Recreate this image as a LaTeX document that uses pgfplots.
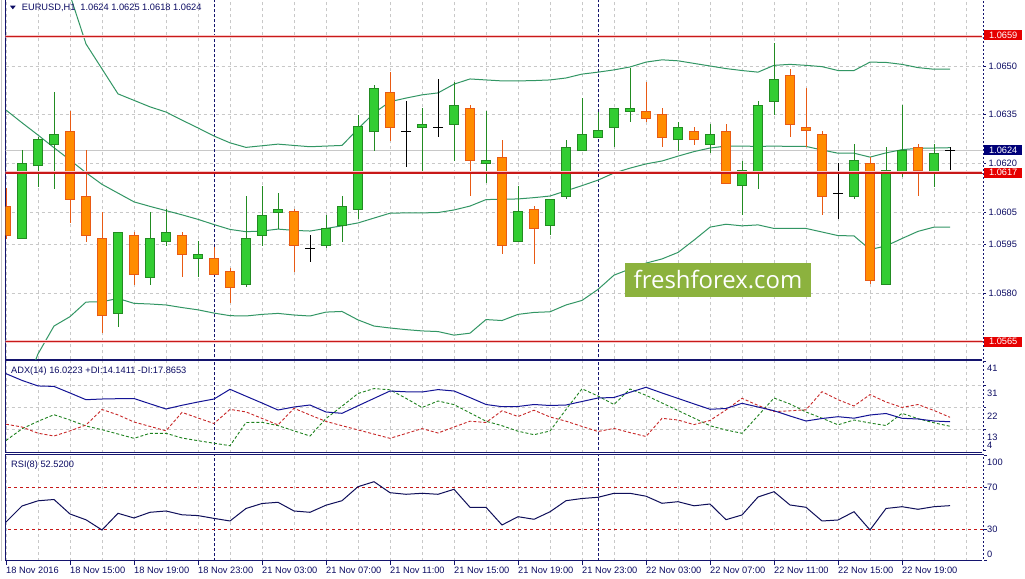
\documentclass[border=0pt]{standalone}
\usepackage{fontspec}
\setmainfont{Liberation Sans}
\newfontfamily\wmfont{Open Sans}
\usepackage{pgfplots}
\usepackage{pgfplotstable}
\pgfplotsset{compat=1.18}

\definecolor{txt}{RGB}{12,12,100}
\definecolor{frame}{RGB}{20,20,110}
\definecolor{gridc}{RGB}{200,200,200}
\definecolor{bullfill}{RGB}{50,205,50}
\definecolor{bullline}{RGB}{34,139,34}
\definecolor{bearfill}{RGB}{255,140,0}
\definecolor{bearline}{RGB}{232,90,20}
\definecolor{bbc}{RGB}{50,150,100}
\definecolor{lvlred}{RGB}{200,25,25}
\definecolor{halo}{RGB}{248,200,200}
\definecolor{adxc}{RGB}{20,20,150}
\definecolor{pdic}{RGB}{30,130,30}
\definecolor{mdic}{RGB}{200,40,40}
\definecolor{rsic}{RGB}{15,15,90}
\definecolor{wm}{RGB}{140,178,62}
\definecolor{boxred}{RGB}{230,0,0}
\definecolor{boxnavy}{RGB}{0,0,120}

\newcommand\sz{\fontsize{9.3}{11}\selectfont}

% EURUSD H1 candles: bar index k, open, high, low, close
\pgfplotstableread{
k O H L C
1 1.05968 1.06241 1.05968 1.06200
2 1.06192 1.06282 1.06128 1.06272
3 1.06259 1.06421 1.06120 1.06289
7 1.05737 1.05987 1.05696 1.05987
9 1.05848 1.06051 1.05825 1.05969
10 1.05959 1.06058 1.05945 1.05987
12 1.05907 1.05960 1.05848 1.05919
15 1.05827 1.06099 1.05818 1.05969
16 1.05978 1.06130 1.05945 1.06040
17 1.06048 1.06109 1.05996 1.06058
20 1.05947 1.06040 1.05938 1.05999
21 1.06009 1.06099 1.05958 1.06068
22 1.06058 1.06350 1.06027 1.06313
23 1.06297 1.06441 1.06239 1.06431
26 1.06311 1.06370 1.06170 1.06320
28 1.06320 1.06450 1.06208 1.06379
30 1.06200 1.06361 1.06138 1.06208
32 1.05959 1.06130 1.05959 1.06050
34 1.06009 1.06089 1.05978 1.06089
35 1.06099 1.06272 1.06089 1.06249
36 1.06239 1.06402 1.06239 1.06289
37 1.06280 1.06359 1.06280 1.06300
38 1.06311 1.06370 1.06249 1.06370
39 1.06361 1.06493 1.06328 1.06370
42 1.06272 1.06328 1.06239 1.06311
44 1.06259 1.06320 1.06231 1.06289
46 1.06130 1.06208 1.06040 1.06177
47 1.06169 1.06392 1.06120 1.06379
48 1.06392 1.06572 1.06349 1.06459
53 1.06099 1.06259 1.06089 1.06208
55 1.05827 1.06251 1.05827 1.06177
56 1.06169 1.06379 1.06159 1.06239
58 1.06169 1.06259 1.06128 1.06231
}\bull

\pgfplotstableread{
k O H L C
0 1.06068 1.06124 1.05965 1.05978
4 1.06297 1.06361 1.06017 1.06089
5 1.06099 1.06241 1.05958 1.05978
6 1.05969 1.06051 1.05677 1.05729
8 1.05978 1.05987 1.05825 1.05856
11 1.05978 1.05987 1.05848 1.05919
13 1.05907 1.05943 1.05858 1.05858
14 1.05867 1.05878 1.05768 1.05818
18 1.06050 1.06058 1.05866 1.05947
24 1.06419 1.06482 1.06270 1.06311
29 1.06370 1.06379 1.06099 1.06208
31 1.06218 1.06272 1.05919 1.05947
33 1.06058 1.06068 1.05888 1.05999
40 1.06361 1.06452 1.06328 1.06339
41 1.06351 1.06370 1.06249 1.06280
43 1.06297 1.06311 1.06256 1.06272
45 1.06297 1.06320 1.06138 1.06138
49 1.06471 1.06490 1.06280 1.06320
50 1.06311 1.06431 1.06249 1.06300
51 1.06289 1.06300 1.06040 1.06099
54 1.06200 1.06220 1.05827 1.05840
57 1.06249 1.06259 1.06099 1.06177
}\bear

\pgfplotstableread{
k O H L C
19 1.05938 1.05979 1.05896 1.05938
25 1.06297 1.06392 1.06189 1.06297
27 1.06311 1.06460 1.06280 1.06311
52 1.06107 1.06200 1.06027 1.06107
59 1.06240 1.06250 1.06180 1.06240
}\doji

% Bollinger bands
\pgfplotstableread{
k up mid lo
0 1.07259 1.06364 1.05347
1 1.07166 1.06325 1.05485
2 1.07043 1.06287 1.05612
3 1.06889 1.06248 1.05698
4 1.06719 1.06210 1.05727
5 1.06568 1.06171 1.05772
6 1.06491 1.06135 1.05773
7 1.06414 1.06108 1.05783
8 1.06394 1.06081 1.05768
9 1.06374 1.06067 1.05766
10 1.06358 1.06054 1.05763
11 1.06333 1.06041 1.05755
12 1.06309 1.06027 1.05748
13 1.06284 1.06011 1.05738
14 1.06263 1.05996 1.05730
15 1.06249 1.05989 1.05729
16 1.06254 1.05991 1.05734
17 1.06259 1.05997 1.05737
18 1.06255 1.05993 1.05732
19 1.06251 1.05991 1.05729
20 1.06253 1.05999 1.05741
21 1.06255 1.06007 1.05743
22 1.06306 1.06016 1.05717
23 1.06355 1.06031 1.05698
24 1.06390 1.06046 1.05692
25 1.06401 1.06047 1.05687
26 1.06411 1.06047 1.05683
27 1.06417 1.06048 1.05681
28 1.06444 1.06056 1.05670
29 1.06460 1.06068 1.05676
30 1.06457 1.06088 1.05718
31 1.06454 1.06089 1.05715
32 1.06454 1.06090 1.05734
33 1.06455 1.06094 1.05740
34 1.06457 1.06099 1.05742
35 1.06463 1.06115 1.05763
36 1.06475 1.06131 1.05777
37 1.06481 1.06148 1.05811
38 1.06488 1.06170 1.05855
39 1.06497 1.06185 1.05874
40 1.06512 1.06198 1.05892
41 1.06519 1.06207 1.05905
42 1.06516 1.06222 1.05925
43 1.06508 1.06236 1.05963
44 1.06500 1.06247 1.06003
45 1.06492 1.06253 1.06012
46 1.06486 1.06253 1.06007
47 1.06481 1.06252 1.06010
48 1.06502 1.06253 1.05999
49 1.06505 1.06252 1.05999
50 1.06502 1.06252 1.05999
51 1.06498 1.06241 1.05988
52 1.06486 1.06231 1.05977
53 1.06486 1.06231 1.05976
54 1.06512 1.06219 1.05934
55 1.06511 1.06232 1.05945
56 1.06505 1.06242 1.05968
57 1.06495 1.06246 1.05990
58 1.06490 1.06247 1.06003
59 1.06490 1.06248 1.06003
}\bb

% ADX(14)
\pgfplotstableread{
k adx pdi mdi
0 36.00 8.23 15.00
1 33.20 13.09 13.84
2 30.90 16.21 11.26
3 30.70 18.95 10.10
4 27.97 16.75 12.22
5 25.18 14.26 14.67
6 25.47 12.72 21.11
7 25.60 10.93 18.87
8 25.68 9.14 15.92
9 23.48 11.22 14.09
10 21.32 11.22 12.26
11 22.86 9.27 19.91
12 24.23 8.15 17.58
13 25.47 7.11 15.29
14 29.50 6.07 21.15
15 26.64 15.71 20.11
16 23.81 15.79 17.41
17 20.90 14.42 14.71
18 22.15 12.26 21.61
19 22.98 10.10 18.83
20 20.07 17.37 16.17
21 19.53 22.48 14.38
22 22.65 27.76 12.63
23 25.72 29.80 10.89
24 28.80 29.30 9.14
25 28.47 25.76 11.14
26 28.38 21.94 13.18
27 29.38 24.64 11.35
28 28.80 23.15 13.84
29 26.06 19.70 16.25
30 23.19 16.25 15.71
31 22.28 14.38 20.57
32 22.36 12.09 18.20
33 23.19 10.64 20.82
34 22.77 12.18 18.00
35 22.98 21.11 16.25
36 24.44 29.71 14.09
37 25.89 26.72 11.97
38 26.10 23.19 13.26
39 28.26 29.63 11.51
40 30.34 27.01 9.89
41 27.97 23.81 17.45
42 25.72 20.70 16.75
43 23.44 17.54 14.84
44 21.20 14.38 16.54
45 21.53 12.59 20.94
46 23.69 11.22 25.76
47 22.15 18.53 22.81
48 20.61 25.89 20.24
49 18.41 23.40 20.57
50 16.33 20.07 20.99
51 17.37 17.50 28.51
52 18.12 14.75 25.18
53 17.50 16.75 22.57
54 18.83 15.50 27.30
55 19.45 14.46 24.23
56 17.46 19.53 21.98
57 17.17 17.29 23.19
58 16.33 15.59 20.70
59 16.02 14.14 17.87
}\adxtab

% RSI(8)
\pgfplotstableread{
k rsi
0 36.97
1 52.20
2 57.15
3 58.39
4 44.58
5 39.06
6 29.35
7 45.25
8 40.77
9 46.20
10 47.44
11 43.82
12 43.06
13 40.39
14 37.92
15 49.82
16 54.58
17 55.72
18 47.44
19 46.20
20 52.96
21 57.24
22 70.57
23 75.33
24 64.86
25 63.34
26 64.29
27 63.34
28 68.10
29 50.96
30 50.96
31 34.11
32 42.01
33 39.54
34 46.68
35 57.24
36 59.34
37 60.48
38 64.29
39 64.29
40 61.53
41 54.77
42 56.29
43 52.39
44 54.10
45 39.16
46 43.63
47 60.77
48 65.81
49 53.15
50 50.96
51 37.92
52 38.87
53 46.77
54 29.35
55 49.82
56 51.53
57 49.06
58 51.53
59 52.52
}\rsitab

\pgfplotsset{
  panel/.style={
    scale only axis, width=977.5bp,
    xmin=-0.03125, xmax=61.0625,
    axis line style={draw=frame, line width=1bp},
    xtick={0,4,...,56}, minor xtick={2,6,...,58,60},
    xmajorgrids, xminorgrids,
    major grid style={draw=gridc, dash pattern=on 3bp off 3bp, line width=0.8bp},
    minor grid style={draw=gridc, dash pattern=on 3bp off 3bp, line width=0.8bp},
    tick align=outside, ytick pos=right, xtick pos=left,
    tick style={draw=frame, line width=0.8bp},
    major tick length=3bp, minor tick length=0bp,
    xtick style={draw=none},
    ticklabel style={font=\sz, text=txt, inner sep=0pt},
  },
  sep/.style={draw=frame, line width=0.9bp, dash pattern=on 3bp off 2bp, forget plot},
  wick/.style={draw=none, mark=none, forget plot,
    error bars/.cd, y dir=both, y explicit, error mark=none,
    error bar style={draw=#1, solid, line width=1bp}},
  bodyout/.style={draw=none, mark=none, forget plot,
    error bars/.cd, y dir=plus, y explicit, error mark=none,
    error bar style={draw=#1, solid, line width=10bp, shorten <=-0.5bp, shorten >=-0.5bp}},
  bodyin/.style={draw=none, mark=none, forget plot,
    error bars/.cd, y dir=plus, y explicit, error mark=none,
    error bar style={draw=#1, solid, line width=8bp, shorten <=0.5bp, shorten >=0.5bp}},
}

\begin{document}
\begin{tikzpicture}
\useasboundingbox (0,0) rectangle (1025bp,579bp);
\fill[white] (0,0) rectangle (1025bp,579bp);

% ---------------- main price panel ----------------
\begin{axis}[panel, at={(5.5bp,219.5bp)}, anchor=south west, height=361.5bp,
  ymin=1.0559485, ymax=1.0670971, ymajorgrids,
  ytick={1.0580,1.0595,1.0605,1.0620,1.0635,1.0650},
  yticklabels={1.0580,1.0595,1.0605,1.0620,1.0635,1.0650},
  yticklabel style={anchor=west, xshift=2.5bp},
  xticklabels={}]
\addplot[draw=gridc, line width=1bp, forget plot] coordinates {(-1,1.0624) (62,1.0624)};
\addplot[sep] coordinates {(13,1.05) (13,1.07)};
\addplot[sep] coordinates {(37,1.05) (37,1.07)};
% Bollinger bands (behind the candles)
\addplot[bbc, line width=1bp, mark=none] table[x=k, y=up] {\bb};
\addplot[bbc, line width=1bp, mark=none] table[x=k, y=mid] {\bb};
\addplot[bbc, line width=1bp, mark=none] table[x=k, y=lo] {\bb};
% wicks
\addplot[wick=bullline] table[x=k, y=C, y error plus expr=\thisrow{H}-\thisrow{C}, y error minus expr=\thisrow{C}-\thisrow{L}] {\bull};
\addplot[wick=bearline] table[x=k, y=C, y error plus expr=\thisrow{H}-\thisrow{C}, y error minus expr=\thisrow{C}-\thisrow{L}] {\bear};
\addplot[wick=black] table[x=k, y=C, y error plus expr=\thisrow{H}-\thisrow{C}, y error minus expr=\thisrow{C}-\thisrow{L}] {\doji};
% bodies
\addplot[bodyout=bullline] table[x=k, y=O, y error plus expr=\thisrow{C}-\thisrow{O}] {\bull};
\addplot[bodyin=bullfill] table[x=k, y=O, y error plus expr=\thisrow{C}-\thisrow{O}] {\bull};
\addplot[bodyout=bearline] table[x=k, y=C, y error plus expr=\thisrow{O}-\thisrow{C}] {\bear};
\addplot[bodyin=bearfill] table[x=k, y=C, y error plus expr=\thisrow{O}-\thisrow{C}] {\bear};
\addplot[only marks, mark=-, mark size=5bp, mark options={draw=black, line width=1bp}, forget plot] table[x=k, y=O] {\doji};
% horizontal levels
\addplot[halo, line width=3bp, forget plot] coordinates {(-1,1.0659) (62,1.0659)};
\addplot[halo, line width=3bp, forget plot] coordinates {(-1,1.0617) (62,1.0617)};
\addplot[halo, line width=3bp, forget plot] coordinates {(-1,1.0565) (62,1.0565)};
\addplot[lvlred, line width=1.2bp, forget plot] coordinates {(-1,1.0659) (62,1.0659)};
\addplot[lvlred, line width=1.2bp, forget plot] coordinates {(-1,1.0617) (62,1.0617)};
\addplot[lvlred, line width=1.2bp, forget plot] coordinates {(-1,1.0565) (62,1.0565)};
\end{axis}

% ---------------- ADX panel ----------------
\begin{axis}[panel, at={(5.5bp,126bp)}, anchor=south west, height=92bp,
  ymin=3.04, ymax=41.26, ytick={13,22,31}, ymajorgrids,
  yticklabels={\raisebox{-11.3bp}{13},\raisebox{-11.7bp}{22},\raisebox{-11.3bp}{31}},
  extra y ticks={4,41}, extra y tick labels={\raisebox{2.4bp}{4},\raisebox{-10bp}{41}},
  extra y tick style={grid=none},
  yticklabel style={anchor=base west, xshift=1bp},
  xticklabels={}]
\addplot[sep] coordinates {(13,0) (13,50)};
\addplot[sep] coordinates {(37,0) (37,50)};
\addplot[pdic, line width=0.9bp, dash pattern=on 3bp off 2bp, mark=none] table[x=k, y=pdi] {\adxtab};
\addplot[mdic, line width=0.9bp, dash pattern=on 3bp off 2bp, mark=none] table[x=k, y=mdi] {\adxtab};
\addplot[adxc, line width=1bp, mark=none] table[x=k, y=adx] {\adxtab};
\end{axis}

% ---------------- RSI panel ----------------
\begin{axis}[panel, at={(5.5bp,18bp)}, anchor=south west, height=106.5bp,
  ymin=-0.19, ymax=101.24, ytick={0,30,70,100},
  yticklabels={\raisebox{3.5bp}{0},\raisebox{-3.3bp}{30},\raisebox{-3.3bp}{70},\raisebox{-9.2bp}{100}},
  yticklabel style={anchor=base west, xshift=0bp},
  xtick style={draw=frame, line width=0.8bp}, major tick length=4bp,
  xticklabels={18 Nov 2016, 18 Nov 15:00, 18 Nov 19:00, 18 Nov 23:00, 21 Nov 03:00,
    21 Nov 07:00, 21 Nov 11:00, 21 Nov 15:00, 21 Nov 19:00, 21 Nov 23:00,
    22 Nov 03:00, 22 Nov 07:00, 22 Nov 11:00, 22 Nov 15:00, 22 Nov 19:00},
  xticklabel style={anchor=north west, yshift=-1.7bp}]
\addplot[sep] coordinates {(13,-10) (13,110)};
\addplot[sep] coordinates {(37,-10) (37,110)};
\addplot[lvlred, line width=0.9bp, dash pattern=on 3bp off 3bp, forget plot] coordinates {(-1,70) (62,70)};
\addplot[lvlred, line width=0.9bp, dash pattern=on 3bp off 3bp, forget plot] coordinates {(-1,30) (62,30)};
\addplot[rsic, line width=1bp, mark=none] table[x=k, y=rsi] {\rsitab};
\end{axis}

% left outer line and dotted look of the right scale edge
\draw[gray!45, line width=1bp] (1.5bp,18bp) -- (1.5bp,579bp);
\draw[white, line width=1.2bp, dash pattern=on 2bp off 2bp] (983bp,18bp) -- (983bp,579bp);

% watermark
\node[fill=wm, minimum width=186bp, minimum height=33.4bp, inner sep=0pt, text=white,
  font=\wmfont\fontsize{24}{28}\selectfont] at (718bp,299bp) {freshforex.com};

% title and indicator captions
\fill[txt] (10bp,573.3bp) -- (15.7bp,573.3bp) -- (12.85bp,569.7bp) -- cycle;
\node[anchor=base west, inner sep=0pt, text=txt, font=\sz] at (21.7bp,568.3bp) {EURUSD,H1\hspace{5bp}1.0624 1.0625 1.0618 1.0624};
\node[anchor=base west, inner sep=0pt, text=txt, font=\sz] at (11bp,205bp) {ADX(14) 16.0223 +DI:14.1411 -DI:17.8653};
\node[anchor=base west, inner sep=0pt, text=txt, font=\sz] at (11bp,111.7bp) {RSI(8) 52.5200};

% price boxes of the current price and the horizontal levels
\begin{scope}[every node/.style={anchor=west, inner sep=0pt, minimum width=38bp, minimum height=10bp, text=white, font=\sz}]
\node[fill=boxnavy] at (984bp,428.7bp) {1.0624};
\node[fill=boxred] at (984bp,543.5bp) {1.0659};
\node[fill=boxred] at (984bp,406.2bp) {1.0617};
\node[fill=boxred] at (984bp,237.3bp) {1.0565};
\end{scope}
\end{tikzpicture}
\end{document}
